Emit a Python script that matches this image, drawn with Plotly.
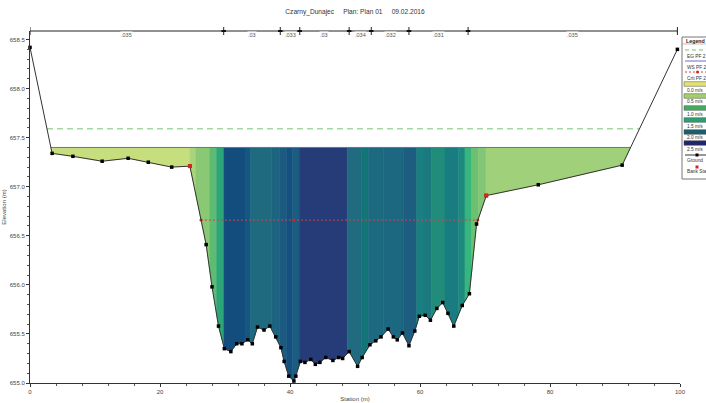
import numpy as np
import plotly.graph_objects as go

# ---------------- data ----------------
title_text = "Czarny_Dunajec     Plan: Plan 01     09.02.2016"

station = [0, 3.4, 6.6, 11.1, 15.1, 18.2, 21.8, 24.6, 27.1, 28.0, 29.0, 29.9, 30.9, 31.8,
           32.6, 33.5, 34.2, 35.0, 36.0, 36.9, 37.8, 38.6, 39.1, 39.8, 40.6, 40.9, 41.6,
           42.3, 43.2, 43.9, 44.6, 45.5, 46.6, 47.5, 48.1, 49.1, 50.4, 51.1, 52.3, 53.2,
           54.0, 55.1, 55.9, 56.5, 57.3, 58.3, 59.2, 59.9, 60.8, 61.6, 62.6, 63.5, 64.3,
           65.2, 66.5, 67.6, 68.7, 70.2, 78.2, 91.1, 99.6]
elevation = [658.42, 657.34, 657.31, 657.26, 657.29, 657.25, 657.20, 657.21, 656.41, 655.98,
             655.58, 655.35, 655.32, 655.40, 655.40, 655.44, 655.40, 655.57, 655.54, 655.58,
             655.47, 655.36, 655.22, 655.07, 655.02, 655.07, 655.22, 655.21, 655.24, 655.19,
             655.21, 655.26, 655.23, 655.26, 655.25, 655.32, 655.17, 655.26, 655.39, 655.43,
             655.47, 655.55, 655.47, 655.44, 655.51, 655.38, 655.53, 655.68, 655.69, 655.64,
             655.76, 655.82, 655.71, 655.58, 655.79, 655.91, 656.62, 656.91, 657.02, 657.22,
             658.40]
bank_stations = [24.6, 70.2]

ws_elev = 657.40      # WS PF 2
eg_elev = 657.59      # EG PF 2
crit_elev = 656.66    # Crit PF 2
crit_stations = [26.3, 40.6, 68.9]

n_change_stations = [0, 29.8, 38.5, 41.5, 49.1, 52.5, 58.3, 67.4, 99.6]
n_values = [".035", ".03", ".033", ".03", ".034", ".032", ".031", ".035"]

# internal boundaries of the velocity-distribution slices
band_edges = [24.62, 25.54, 27.69, 28.72, 29.85, 33.08, 33.95, 37.18, 38.35, 39.49, 40.42,
              41.43, 48.82, 51.03, 52.05, 54.35, 57.43, 59.49, 60.62, 61.80, 63.85, 65.89,
              66.92, 67.95, 68.97, 70.15]

legend_labels = ["EG PF 2", "WS PF 2", "Crit PF 2", "0.0 m/s", "0.5 m/s", "1.0 m/s",
                 "1.5 m/s", "2.0 m/s", "2.5 m/s", "Ground", "Bank Sta"]

# ---------------- styles ----------------
band_colors = ["#c6de7e", "#a9d47c", "#8ac874", "#5ebc72", "#2ca679", "#134d7e", "#175680",
               "#1f6a7e", "#1d6480", "#1b5b82", "#16507e", "#1b5d80", "#263c78", "#206b7f",
               "#127578", "#1c6a80", "#1b6880", "#1c5d80", "#1a7f80", "#1b7a80", "#228c7a",
               "#197c80", "#1e8a7f", "#36b67c", "#6cc070", "#80c676", "#a0d07a"]
vel_legend_colors = ["#e2e272", "#a2cf6c", "#44ad5e", "#2c9f70", "#1b5e6e", "#1e266a"]
FONT = "Liberation Sans, Arial, sans-serif"
TXT = "#444444"

W, H = 706, 403

st = np.array(station, dtype=float)
el = np.array(elevation, dtype=float)


def ground_at(x):
    return float(np.interp(x, st, el))


def crossings(level):
    xs = []
    for i in range(len(st) - 1):
        e0, e1 = el[i], el[i + 1]
        if (e0 - level) * (e1 - level) < 0:
            xs.append(st[i] + (level - e0) / (e1 - e0) * (st[i + 1] - st[i]))
    return xs[0], xs[-1]


ws_l, ws_r = crossings(ws_elev)
eg_l, eg_r = crossings(eg_elev)
edges = [ws_l] + band_edges + [ws_r]

fig = go.Figure()

# velocity slices
for a, b, c in zip(edges[:-1], edges[1:], band_colors):
    inner = [(s, e) for s, e in zip(station, elevation) if a < s < b]
    xs = [a, b, b] + [s for s, _ in reversed(inner)] + [a, a]
    ys = ([ws_elev, ws_elev, min(ws_elev, ground_at(b))]
          + [min(ws_elev, e) for _, e in reversed(inner)]
          + [min(ws_elev, ground_at(a)), ws_elev])
    fig.add_trace(go.Scatter(x=xs, y=ys, mode="lines", fill="toself", fillcolor=c,
                             line=dict(color=c, width=0.6), hoverinfo="skip"))

# EG line
fig.add_trace(go.Scatter(x=[eg_l, eg_r], y=[eg_elev, eg_elev], mode="lines",
                         line=dict(color="#74c474", width=1, dash="6px,4px")))
# WS line
fig.add_trace(go.Scatter(x=[ws_l, ws_r], y=[ws_elev, ws_elev], mode="lines",
                         line=dict(color="#6a6acc", width=1)))
# Crit line
fig.add_trace(go.Scatter(x=crit_stations, y=[crit_elev] * len(crit_stations),
                         mode="lines+markers",
                         line=dict(color="#c84848", width=1, dash="2px,2px"),
                         marker=dict(color="#e02020", size=3)))
# Ground
fig.add_trace(go.Scatter(x=station, y=elevation, mode="lines+markers",
                         line=dict(color="#333333", width=1),
                         marker=dict(color="black", size=3.5, symbol="square"),
                         cliponaxis=False))
# Bank stations
fig.add_trace(go.Scatter(x=bank_stations, y=[ground_at(b) for b in bank_stations],
                         mode="markers", marker=dict(color="#e02020", size=4, symbol="square"),
                         cliponaxis=False))

# ---------- pixel helpers for decorations ----------
L, R, T, B = 30, 680, 31, 383


def PX(p):
    return (p - L) / (R - L)


def PY(p):
    return (B - p) / (B - T)


shapes = []
annotations = []

# Manning's n line along the top
shapes.append(dict(type="line", xref="x", yref="paper", x0=n_change_stations[0],
                   x1=n_change_stations[-1], y0=1, y1=1, line=dict(color="#222", width=1)))
for i, s in enumerate(n_change_stations):
    shapes.append(dict(type="line", xref="x", yref="paper", x0=s, x1=s,
                       y0=PY(35), y1=PY(27), line=dict(color="#222", width=1)))
    if 0 < i < len(n_change_stations) - 1:
        shapes.append(dict(type="line", xref="x", yref="paper", x0=s - 0.35, x1=s + 0.35,
                           y0=1, y1=1, line=dict(color="#111", width=2)))
for a, b, n in zip(n_change_stations[:-1], n_change_stations[1:], n_values):
    annotations.append(dict(x=(a + b) / 2, y=1, xref="x", yref="paper", text=n,
                            showarrow=False, bgcolor="white", borderpad=0,
                            font=dict(size=5.5, color="#555", family=FONT)))

# Legend box
shapes.append(dict(type="rect", xref="paper", yref="paper", x0=PX(682), x1=PX(730),
                   y0=PY(179), y1=PY(37), line=dict(color="#777", width=1),
                   fillcolor="white", layer="above"))
shapes.append(dict(type="line", xref="paper", yref="paper", x0=PX(682), x1=PX(730),
                   y0=PY(44), y1=PY(44), line=dict(color="#999", width=0.6), layer="above"))
annotations.append(dict(x=PX(684), y=PY(40.5), xref="paper", yref="paper", text="<b>Legend</b>",
                        showarrow=False, xanchor="left", yanchor="middle",
                        font=dict(size=5.3, color="#222", family=FONT)))
sym_y = [50, 61, 72, 84, 96, 108, 120, 132, 143, 155, 167]
lab_y = [56, 67, 78, 90, 102, 114, 126, 137, 149, 161, 172]
# EG
shapes.append(dict(type="line", xref="paper", yref="paper", x0=PX(685), x1=PX(712),
                   y0=PY(sym_y[0]), y1=PY(sym_y[0]), layer="above",
                   line=dict(color="#74c474", width=1, dash="4px,3px")))
# WS
shapes.append(dict(type="line", xref="paper", yref="paper", x0=PX(685), x1=PX(712),
                   y0=PY(sym_y[1]), y1=PY(sym_y[1]), layer="above",
                   line=dict(color="#6a6acc", width=1)))
# Crit
shapes.append(dict(type="line", xref="paper", yref="paper", x0=PX(685), x1=PX(712),
                   y0=PY(sym_y[2]), y1=PY(sym_y[2]), layer="above",
                   line=dict(color="#d04040", width=1, dash="2px,2px")))
shapes.append(dict(type="circle", xref="paper", yref="paper", x0=PX(696), x1=PX(699),
                   y0=PY(sym_y[2] + 1.5), y1=PY(sym_y[2] - 1.5), layer="above",
                   fillcolor="#e02020", line=dict(width=0)))
# velocity swatches
for k, c in enumerate(vel_legend_colors):
    yy = sym_y[3 + k]
    shapes.append(dict(type="rect", xref="paper", yref="paper", x0=PX(684), x1=PX(712),
                       y0=PY(yy + 2.3), y1=PY(yy - 2.3), layer="above",
                       fillcolor=c, line=dict(color="#555", width=0.5)))
# Ground
shapes.append(dict(type="line", xref="paper", yref="paper", x0=PX(685), x1=PX(712),
                   y0=PY(sym_y[9]), y1=PY(sym_y[9]), layer="above",
                   line=dict(color="#333", width=1)))
shapes.append(dict(type="rect", xref="paper", yref="paper", x0=PX(695.5), x1=PX(698.5),
                   y0=PY(sym_y[9] + 1.5), y1=PY(sym_y[9] - 1.5), layer="above",
                   fillcolor="black", line=dict(width=0)))
# Bank sta
shapes.append(dict(type="rect", xref="paper", yref="paper", x0=PX(695.5), x1=PX(698.5),
                   y0=PY(sym_y[10] + 1.5), y1=PY(sym_y[10] - 1.5), layer="above",
                   fillcolor="#e02020", line=dict(width=0)))
for t, yy in zip(legend_labels, lab_y):
    annotations.append(dict(x=PX(685), y=PY(yy), xref="paper", yref="paper", text=t,
                            showarrow=False, xanchor="left", yanchor="middle",
                            font=dict(size=4.8, color="#333", family=FONT)))

fig.update_layout(
    width=W, height=H,
    margin=dict(l=L, r=W - R, t=T, b=H - B, pad=0),
    paper_bgcolor="white", plot_bgcolor="white",
    showlegend=False,
    title=dict(text=title_text, x=355 / W, xanchor="center",
               y=1 - 12 / H, yanchor="middle",
               font=dict(size=6.6, color="#333", family=FONT)),
    font=dict(family=FONT, size=6, color=TXT),
    shapes=shapes, annotations=annotations,
    xaxis=dict(range=[0, 100], tickvals=[0, 20, 40, 60, 80, 100], ticks="outside",
               ticklen=3, tickcolor="#333", showline=True, linecolor="#333", linewidth=1,
               showgrid=False, zeroline=False, minor=dict(dtick=4, ticks="outside", ticklen=2,
                                                          tickcolor="#555"),
               tickfont=dict(size=6, color=TXT), automargin=False,
               title=dict(text="Station (m)", font=dict(size=6, color=TXT), standoff=2)),
    yaxis=dict(range=[655, 658.587], dtick=0.5, tick0=655, tickformat=".1f", ticks="outside",
               ticklen=3, tickcolor="#333", showline=True, linecolor="#333", linewidth=1,
               showgrid=False, zeroline=False, minor=dict(dtick=0.1, ticks="outside", ticklen=2,
                                                          tickcolor="#555"),
               tickfont=dict(size=6, color=TXT), automargin=False,
               title=dict(text="Elevation (m)", font=dict(size=6, color=TXT), standoff=2)),
)

fig.write_html("out.html", config={"displayModeBar": False},
               post_script="document.body.style.margin='0';document.body.style.overflow='hidden';")
